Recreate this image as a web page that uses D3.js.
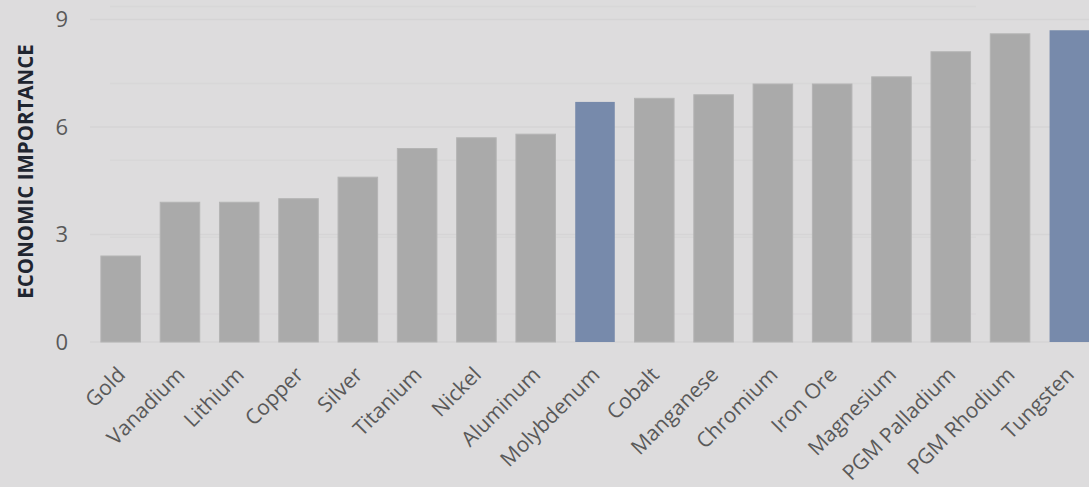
<!DOCTYPE html>
<html>
<head>
<meta charset="utf-8">
<script src="https://cdn.jsdelivr.net/npm/d3@7"></script>
<style>
  html, body { margin: 0; padding: 0; background: #dddcdd; overflow: hidden; }
  text { font-family: "Open Sans", "Noto Sans", sans-serif; }
</style>
</head>
<body>
<div id="chart"></div>
<script>
// chart data
const minerals = ['Gold', 'Vanadium', 'Lithium', 'Copper', 'Silver', 'Titanium', 'Nickel', 'Aluminum',
  'Molybdenum', 'Cobalt', 'Manganese', 'Chromium', 'Iron Ore', 'Magnesium', 'PGM Palladium', 'PGM Rhodium', 'Tungsten'];
const importance = [2.4, 3.9, 3.9, 4.0, 4.6, 5.4, 5.7, 5.8, 6.7, 6.8, 6.9, 7.2, 7.2, 7.4, 8.1, 8.6, 8.7];
const highlighted = ['Molybdenum', 'Tungsten'];
const yTicks = [0, 3, 6, 9];
const yTitle = 'ECONOMIC IMPORTANCE';

const svgWidth = 1089;
const svgHeight = 487;

const svg = d3.select('#chart')
  .append('svg')
  .attr('width', svgWidth)
  .attr('height', svgHeight);

// x band scale, runs past the right edge like the original
const x = d3.scaleBand()
  .domain(minerals)
  .range([91, 1099])
  .paddingInner(0.333)
  .paddingOuter(0.1667);

const y = d3.scaleLinear()
  .domain([0, 9])
  .range([342, 19.5]);

// faint secondary grid (hidden axis in the source chart)
const y2 = d3.scaleLinear()
  .domain([0, 5])
  .range([391, 6.5]);

svg.append('g')
  .selectAll('line')
  .data([1, 2, 3, 4, 5])
  .enter()
  .append('line')
  .attr('x1', 110)
  .attr('x2', 976)
  .attr('y1', (d) => y2(d))
  .attr('y2', (d) => y2(d))
  .attr('stroke', '#d8d7d8')
  .attr('stroke-width', 1.5);

// main grid
svg.append('g')
  .selectAll('line')
  .data(yTicks)
  .enter()
  .append('line')
  .attr('x1', 90)
  .attr('x2', svgWidth)
  .attr('y1', (d) => y(d))
  .attr('y2', (d) => y(d))
  .attr('stroke', '#d5d4d5')
  .attr('stroke-width', 1.5);

// bars
svg.append('g')
  .selectAll('rect')
  .data(minerals)
  .enter()
  .append('rect')
  .attr('x', (d) => x(d))
  .attr('width', x.bandwidth())
  .attr('y', (d, i) => y(importance[i]))
  .attr('height', (d, i) => y(0) - y(importance[i]))
  .attr('fill', (d) => highlighted.includes(d) ? '#778aab' : '#aaaaaa')
  .attr('stroke', (d) => highlighted.includes(d) ? 'none' : '#b4b4b4')
  .attr('stroke-width', 1);

// y axis labels
const yAxis = svg.append('g')
  .attr('transform', 'translate(68, 0)')
  .call(d3.axisLeft(y).tickValues(yTicks).tickSize(0).tickPadding(0));
yAxis.select('.domain').remove();
yAxis.selectAll('text')
  .attr('fill', '#595959')
  .style('font-size', '22px')
  .style('font-family', '"Open Sans", sans-serif');

// x axis labels, rotated
const xAxis = svg.append('g')
  .attr('transform', `translate(0, ${y(0)})`)
  .call(d3.axisBottom(x).tickSize(0).tickPadding(0));
xAxis.select('.domain').remove();
xAxis.selectAll('text')
  .attr('fill', '#595959')
  .style('font-size', '21px')
  .style('font-family', '"Open Sans", sans-serif')
  .attr('text-anchor', 'end')
  .attr('dy', 0)
  .attr('y', 0)
  .attr('transform', 'translate(6, 34) rotate(-45)');

// y title
svg.append('text')
  .attr('transform', 'translate(32.5, 171.5) rotate(-90)')
  .attr('text-anchor', 'middle')
  .attr('fill', '#1f2530')
  .style('font-size', '20.5px')
  .style('font-weight', 'bold')
  .text(yTitle);
</script>
</body>
</html>
